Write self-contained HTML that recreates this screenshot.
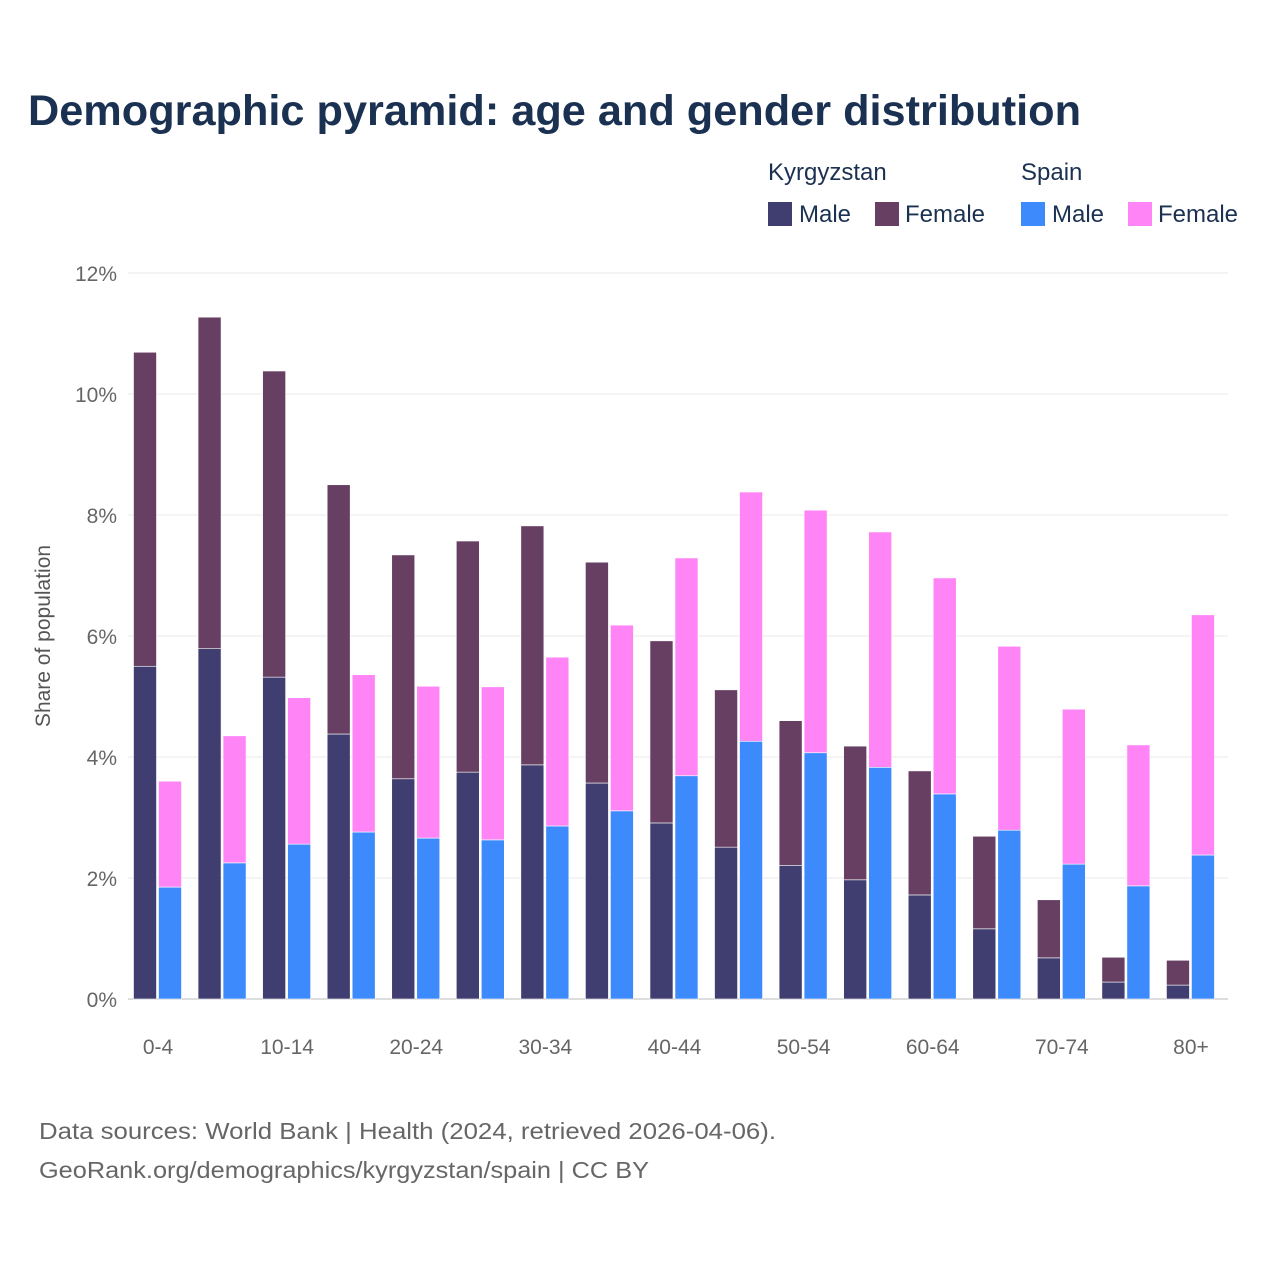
<!DOCTYPE html>
<html><head><meta charset="utf-8"><style>
body{margin:0;background:#fff;font-family:"Liberation Sans",sans-serif}
</style></head><body>
<svg width="1280" height="1280" xmlns="http://www.w3.org/2000/svg">
<text x="28" y="125" font-size="43" font-weight="bold" fill="#1b3152" textLength="1053" lengthAdjust="spacingAndGlyphs">Demographic pyramid: age and gender distribution</text>
<g font-size="24" fill="#1b3152">
<text x="768" y="180">Kyrgyzstan</text>
<text x="1021" y="180">Spain</text>
<rect x="768" y="202" width="24" height="24" fill="#403d70"/><text x="799" y="222">Male</text>
<rect x="875" y="202" width="24" height="24" fill="#663f62"/><text x="905" y="222">Female</text>
<rect x="1021" y="202" width="24" height="24" fill="#3d8afd"/><text x="1052" y="222">Male</text>
<rect x="1128" y="202" width="24" height="24" fill="#ff85f7"/><text x="1158" y="222">Female</text>
</g>
<text transform="translate(50,636) rotate(-90)" text-anchor="middle" font-size="21" fill="#555">Share of population</text>
<g id="grid"></g><g id="bars"></g><g id="xlabels"></g>
<g font-size="23" fill="#666">
<text x="39" y="1139" textLength="737" lengthAdjust="spacingAndGlyphs">Data sources: World Bank | Health (2024, retrieved 2026-04-06).</text>
<text x="39" y="1178" textLength="610" lengthAdjust="spacingAndGlyphs">GeoRank.org/demographics/kyrgyzstan/spain | CC BY</text>
</g>
</svg>
<script>
const ageGroups=["0-4","5-9","10-14","15-19","20-24","25-29","30-34","35-39","40-44","45-49","50-54","55-59","60-64","65-69","70-74","75-79","80+"];
const kgMale=[5.50,5.79,5.32,4.38,3.64,3.75,3.87,3.57,2.91,2.51,2.21,1.97,1.72,1.16,0.68,0.28,0.23];
const kgFemale=[5.19,5.48,5.06,4.12,3.70,3.82,3.95,3.65,3.01,2.60,2.39,2.21,2.05,1.53,0.96,0.41,0.41];
const esMale=[1.85,2.25,2.56,2.76,2.66,2.63,2.86,3.11,3.69,4.26,4.07,3.83,3.39,2.79,2.23,1.87,2.38];
const esFemale=[1.75,2.10,2.42,2.60,2.51,2.53,2.79,3.07,3.60,4.12,4.01,3.89,3.57,3.04,2.56,2.33,3.97];
const yTicks=[0,2,4,6,8,10,12];
const NS="http://www.w3.org/2000/svg";
const y=v=>999-v*60.5;
const xc=i=>158+i*64.56;
function mk(tag,attrs,parent){const e=document.createElementNS(NS,tag);for(const k in attrs)e.setAttribute(k,attrs[k]);parent.appendChild(e);return e;}
const grid=document.getElementById('grid');
yTicks.forEach(t=>{
  const l=mk('line',{x1:128,x2:1228,y1:y(t),y2:y(t),stroke:t===0?'#ddd':'#e8e8e8','stroke-width':t===0?2:1},grid);
  
  
  const tx=mk('text',{x:117,y:y(t)+8,'text-anchor':'end','font-size':21,fill:'#666'},grid);
  tx.textContent=t+'%';
  
  
});
const bars=document.getElementById('bars');
const W=23;
ageGroups.forEach((g,i)=>{
  const xk=xc(i)-24.5, xs=xc(i)+0.5;
  const segs=[[xk,0,kgMale[i],'#403d70','kg-male'],[xk,kgMale[i],kgMale[i]+kgFemale[i],'#663f62','kg-female'],
              [xs,0,esMale[i],'#3d8afd','es-male'],[xs,esMale[i],esMale[i]+esFemale[i],'#ff85f7','es-female']];
  segs.forEach(s=>{
    const r=mk('rect',{x:s[0],y:y(s[2]),width:W,height:y(s[1])-y(s[2]),fill:s[3],stroke:'#fff','stroke-width':0.6},bars);
    
    
  });
  if(i%2===0){
    const t=mk('text',{x:xc(i),y:1054,'text-anchor':'middle','font-size':21,fill:'#666'},document.getElementById('xlabels'));
    t.textContent=g;
    
    
  }
});
</script>
</body></html>
